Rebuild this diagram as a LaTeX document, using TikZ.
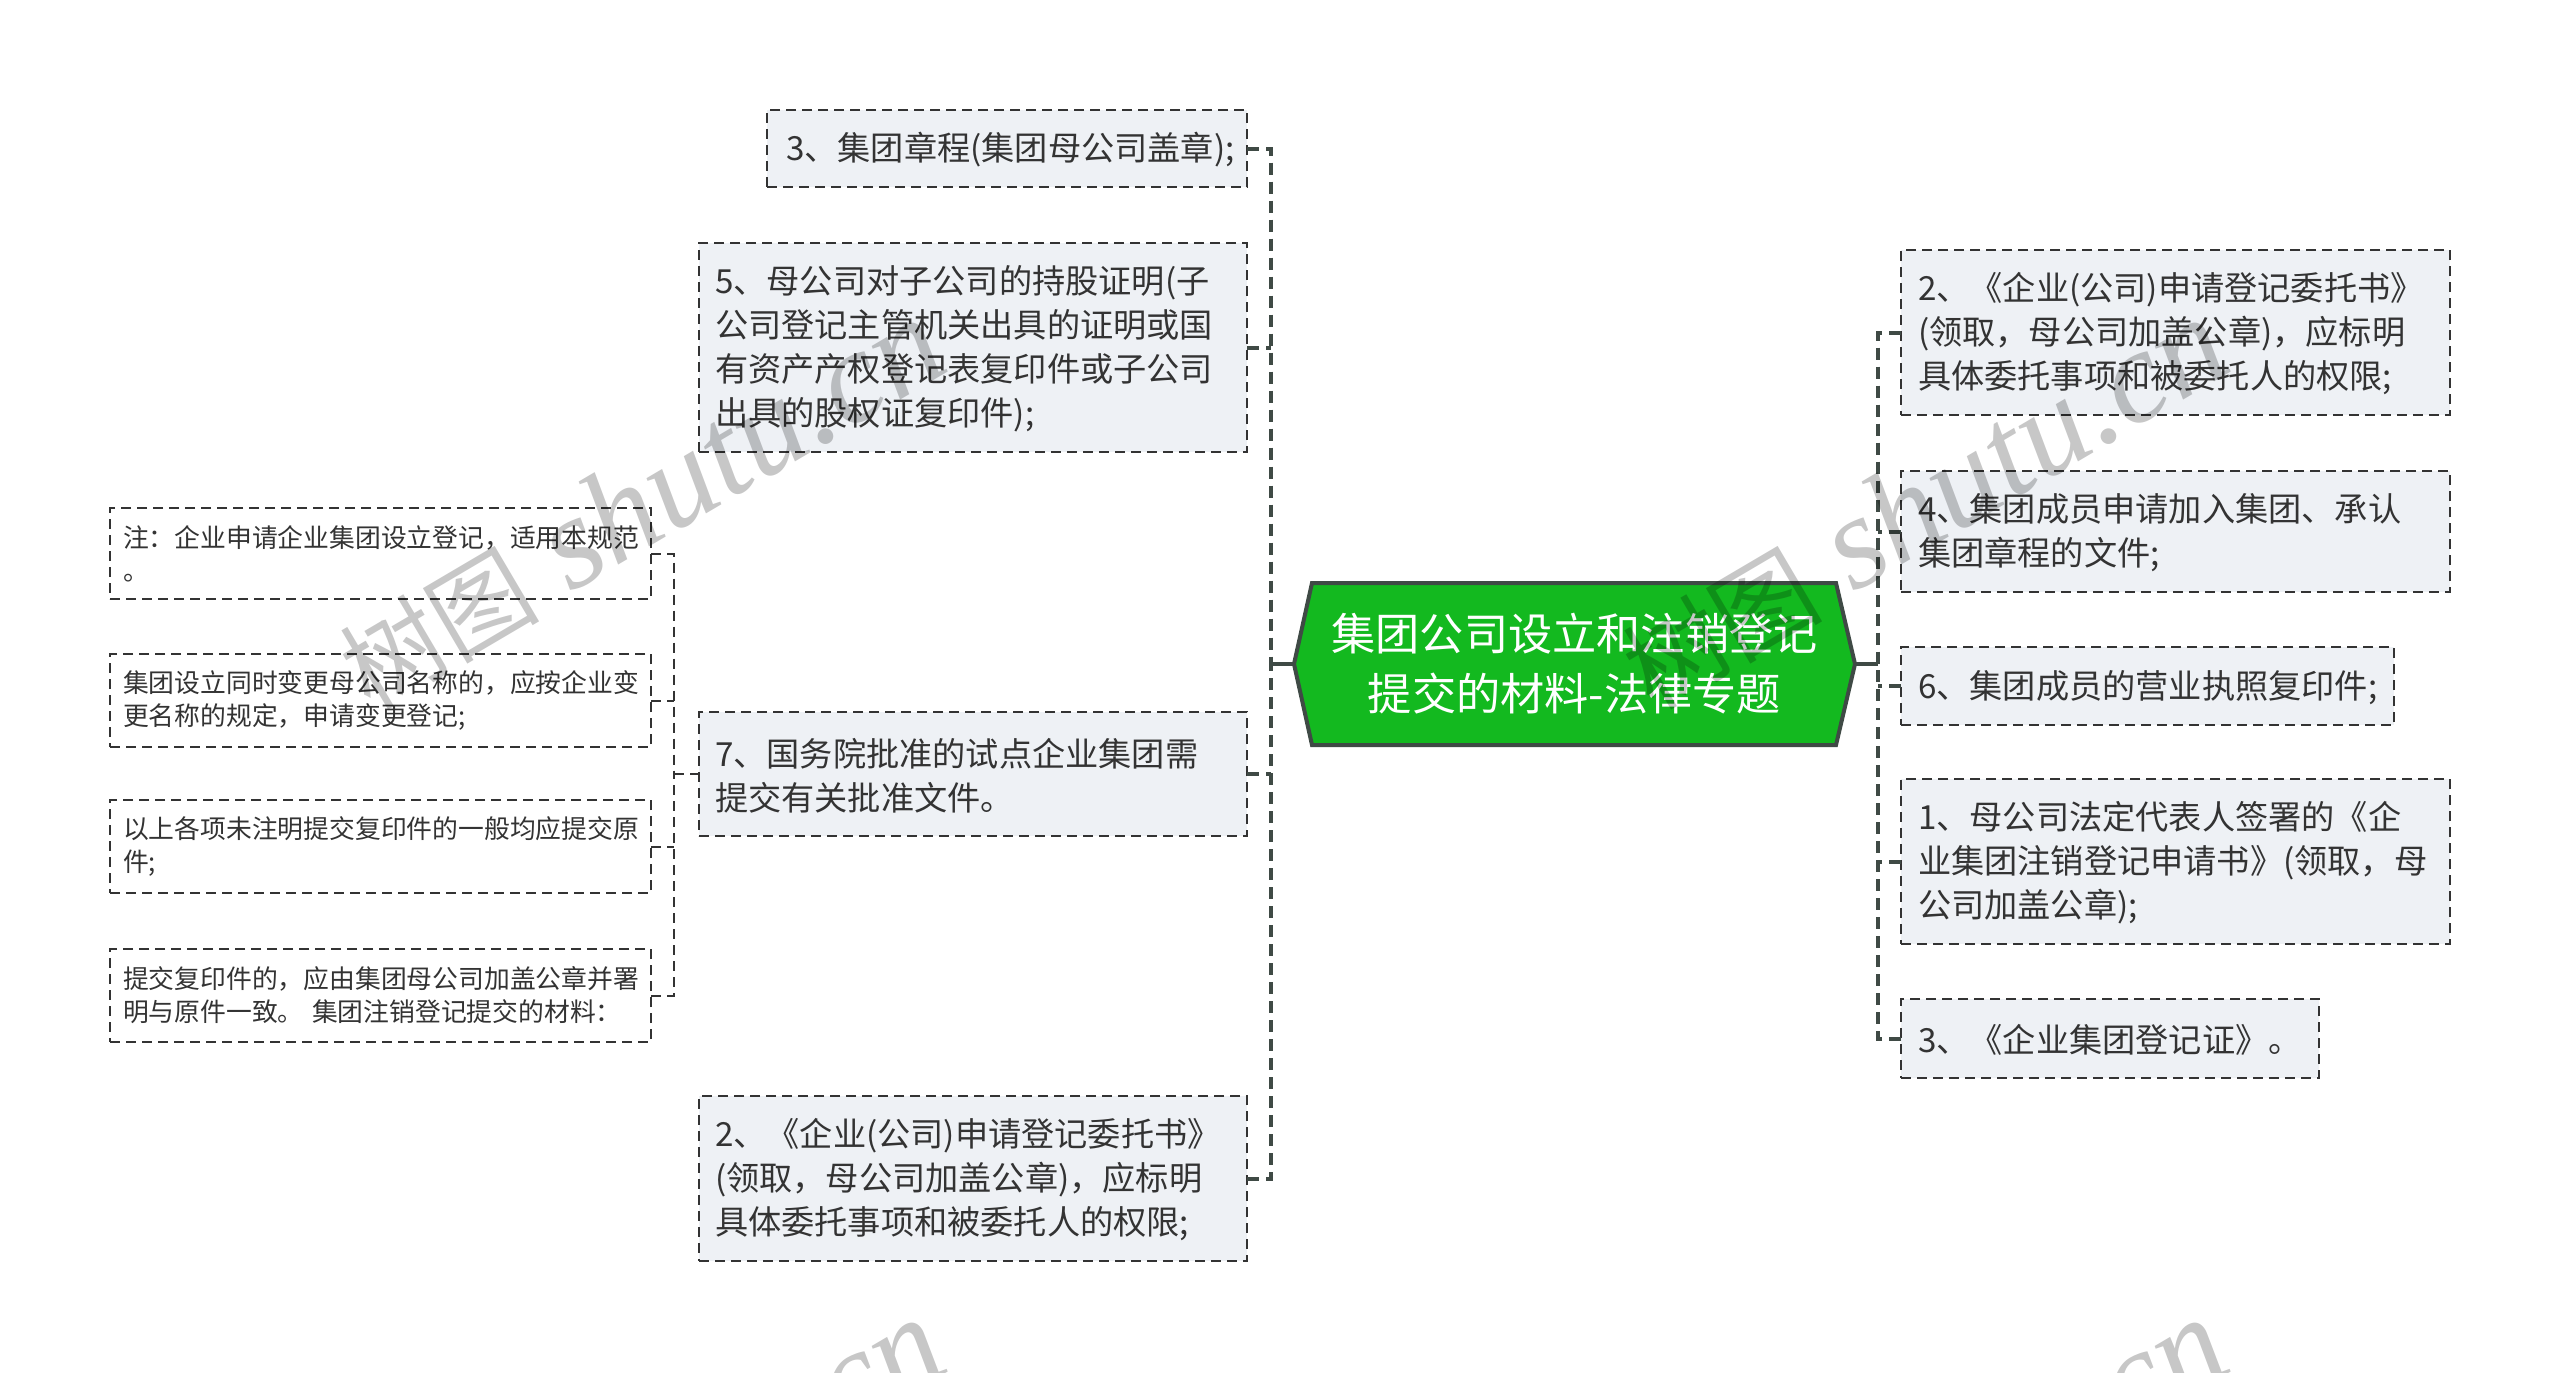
\documentclass[tikz,border=0pt]{standalone}
\usepackage{fontspec}
\setmainfont{Noto Sans CJK SC}
\newfontfamily\wmcjk{Noto Sans CJK SC}
\newfontfamily\wmlat{Liberation Serif}
\definecolor{boxfill}{HTML}{EEF1F5}
\definecolor{ink}{HTML}{333333}
\definecolor{stroke}{HTML}{3F4A45}
\definecolor{rootgreen}{HTML}{13B91F}
\tikzset{
  basebox/.style={rectangle,draw=ink,line width=1pt,dash pattern=on 5pt off 3pt,outer sep=0pt,inner sep=0pt,text=ink,align=left},
  bigbox/.style={basebox,fill=boxfill,font=\fontsize{16.6}{22}\selectfont},
  smallbox/.style={basebox,fill=white,font=\fontsize{12.9}{16.5}\selectfont},
  conn/.style={draw=stroke,line width=2pt,dash pattern=on 6pt off 3.5pt},
  thinconn/.style={draw=ink,line width=1pt,dash pattern=on 5pt off 3pt},
  rootline/.style={draw=stroke,line width=2pt},
  rootshape/.style={draw=stroke,line width=2pt,fill=rootgreen,line join=miter},
  rootlabel/.style={text=white,align=center,inner sep=0pt,outer sep=0pt,font=\fontsize{22.1}{30}\selectfont},
  wm/.style={text=black,opacity=.22,inner sep=0pt,rotate=30.5,anchor=base west}
}
\newcommand{\nudge}{\rule{0pt}{15.4pt}}
\newcommand{\wmtext}{{\wmcjk\fontsize{50}{60}\selectfont 树图}\hspace{14pt} {\wmlat\itshape\fontsize{66}{60}\selectfont shutu.cn}}
% name, x1, y1, x2, y2, style, left pad (px), text
\newcommand{\bxnode}[8]{%
  \pgfmathsetmacro{\bxw}{(#4-#2)*0.5}%
  \pgfmathsetmacro{\bxh}{(#5-#3)*0.5}%
  \pgfmathsetmacro{\bxt}{(#4-#2)*0.5-#7}%
  \pgfmathsetmacro{\bxx}{(#2+#4)/2}%
  \pgfmathsetmacro{\bxy}{(#3+#5)/2}%
  \node[#6,minimum width=\bxw pt,minimum height=\bxh pt,text width=\bxt pt] (#1) at (\bxx,\bxy) {#8};%
}
\begin{document}
\begin{tikzpicture}[x=0.5pt,y=-0.5pt]
\useasboundingbox (0,0) rectangle (2560,1372);
% spines
\coordinate (sL) at (1271,664);
\coordinate (sR) at (1878,664);
\coordinate (sS) at (674,774);
% left main column
\bxnode{a}{767}{110}{1247}{187}{bigbox}{19}{\nudge 3、集团章程(集团母公司盖章);}
\bxnode{b}{699}{243}{1247}{452}{bigbox}{16}{\nudge 5、母公司对子公司的持股证明(子\\公司登记主管机关出具的证明或国\\有资产产权登记表复印件或子公司\\出具的股权证复印件);}
\bxnode{c}{699}{712}{1247}{836}{bigbox}{16}{\nudge 7、国务院批准的试点企业集团需\\提交有关批准文件。}
\bxnode{d}{699}{1096}{1247}{1261}{bigbox}{16}{\nudge 2、《企业(公司)申请登记委托书》\\(领取，母公司加盖公章)，应标明\\具体委托事项和被委托人的权限;}
% right column
\bxnode{r1}{1901}{250}{2450}{415}{bigbox}{17}{\nudge 2、《企业(公司)申请登记委托书》\\(领取，母公司加盖公章)，应标明\\具体委托事项和被委托人的权限;}
\bxnode{r2}{1901}{471}{2450}{592}{bigbox}{17}{\nudge 4、集团成员申请加入集团、承认\\集团章程的文件;}
\bxnode{r3}{1901}{647}{2394}{725}{bigbox}{17}{\nudge 6、集团成员的营业执照复印件;}
\bxnode{r4}{1901}{779}{2450}{944}{bigbox}{17}{\nudge 1、母公司法定代表人签署的《企\\业集团注销登记申请书》(领取，母\\公司加盖公章);}
\bxnode{r5}{1901}{999}{2319}{1078}{bigbox}{17}{\nudge 3、《企业集团登记证》。}
% small notes
\bxnode{n1}{110}{508}{651}{599}{smallbox}{13}{注：企业申请企业集团设立登记，适用本规范\\。}
\bxnode{n2}{110}{654}{651}{747}{smallbox}{13}{集团设立同时变更母公司名称的，应按企业变\\更名称的规定，申请变更登记;}
\bxnode{n3}{110}{800}{651}{893}{smallbox}{13}{以上各项未注明提交复印件的一般均应提交原\\件;}
\bxnode{n4}{110}{949}{651}{1042}{smallbox}{13}{提交复印件的，应由集团母公司加盖公章并署\\明与原件一致。 集团注销登记提交的材料：}
% root
\draw[rootshape] (1294,664)--(1312,583)--(1836,583)--(1855,664)--(1836,745)--(1312,745)--cycle;
\node[rootlabel] (root) at (1574.5,664) {集团公司设立和注销登记\\提交的材料-法律专题};
\coordinate (rootW) at (1294,664);
\coordinate (rootE) at (1855,664);
% connectors
\draw[rootline] (rootW) -- (sL);
\draw[rootline] (rootE) -- (sR);
\draw[conn] (a.east) -| (sL);
\draw[conn] (d.east) -| (sL);
\draw[conn] (b.east) -- (b.east -| sL);
\draw[conn] (c.east) -- (c.east -| sL);
\draw[conn] (r1.west) -| (sR);
\draw[conn] (r5.west) -| (sR);
\draw[conn] (r2.west) -- (r2.west -| sR);
\draw[conn] (r3.west) -- (r3.west -| sR);
\draw[conn] (r4.west) -- (r4.west -| sR);
\draw[thinconn] (n1.east) -| (sS);
\draw[thinconn] (n4.east) -| (sS);
\draw[thinconn] (n2.east) -- (n2.east -| sS);
\draw[thinconn] (n3.east) -- (n3.east -| sS);
\draw[thinconn] (sS) -- (c.west);
% watermarks
\node[wm] (w1) at (370,712) {\wmtext};
\node[wm] (w2) at (1653,712) {\wmtext};
\node[wm] (w3) at (370,1712) {\wmtext};
\node[wm] (w4) at (1653,1712) {\wmtext};
\end{tikzpicture}
\end{document}
